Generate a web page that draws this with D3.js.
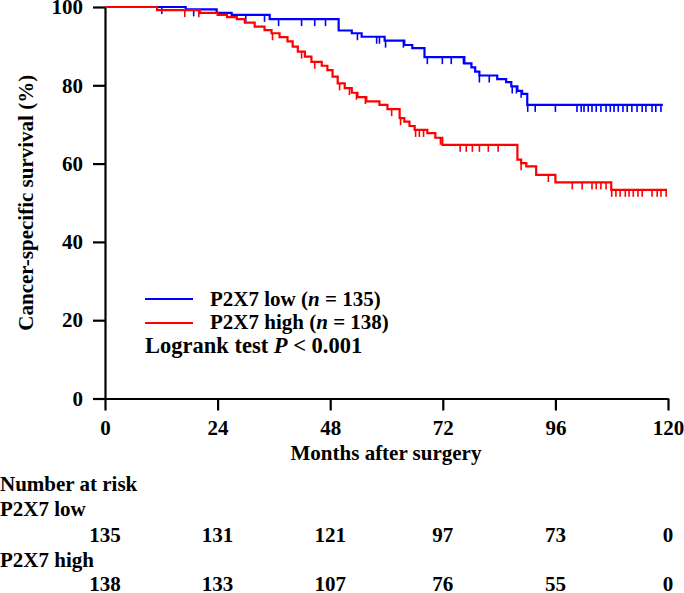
<!DOCTYPE html>
<html>
<head>
<meta charset="utf-8">
<script src="https://cdn.jsdelivr.net/npm/d3@7"></script>
<style>
  html, body { margin: 0; padding: 0; background: #fff; }
  svg text { font-family: "Liberation Serif", "Times New Roman", serif; font-weight: bold; fill: #000; }
</style>
</head>
<body>
<svg id="chart" width="684" height="593"></svg>
<script>
// ---- Data ----
const xTicks = [0, 24, 48, 72, 96, 120];
const yTicks = [0, 20, 40, 60, 80, 100];

// P2X7 low: step times (months) and survival (%)
const lowTimes = [0, 17.2, 23.8, 27.0, 35.1, 49.8, 52.6, 54.7, 59.6, 63.8, 65.5, 68.1, 76.6, 78.1, 78.9, 79.8, 83.6, 85.5, 86.6, 87.9, 88.9, 90.0, 118.9];
const lowSurv  = [100, 99.4, 98.5, 98.0, 96.9, 94.0, 93.3, 92.4, 91.4, 90.3, 89.5, 87.2, 85.6, 84.6, 83.5, 82.5, 81.6, 80.8, 79.7, 78.6, 77.8, 75.0, 75.0];
const lowCensor = [12.1, 18.9, 30.0, 34.0, 37.0, 41.9, 44.7, 47.0, 53.8, 57.9, 58.5, 59.8, 63.6, 68.7, 71.9, 73.8, 76.4, 79.8, 81.9, 86.8, 87.7, 88.7, 90.1, 91.7, 96.0, 100.6, 101.5, 102.1, 103.0, 103.8, 104.7, 105.7, 106.8, 107.7, 108.5, 109.4, 110.4, 111.3, 112.3, 113.4, 114.5, 115.3, 116.6, 117.4, 118.5];

// P2X7 high
const highTimes = [0, 11.1, 20.2, 24.0, 26.0, 28.1, 29.8, 31.9, 34.0, 35.5, 37.2, 38.9, 40.0, 41.1, 42.6, 44.0, 46.2, 47.4, 48.5, 49.6, 51.1, 52.6, 53.8, 55.7, 58.5, 60.2, 62.8, 63.8, 64.9, 66.0, 68.7, 70.4, 71.9, 87.9, 88.7, 89.8, 91.9, 96.0, 107.9, 119.8];
const highSurv  = [100, 99.2, 98.5, 98.0, 97.4, 96.9, 96.0, 95.0, 94.1, 93.3, 92.3, 91.2, 89.9, 88.6, 87.3, 86.0, 85.0, 83.9, 82.2, 80.5, 79.3, 78.1, 77.0, 75.9, 75.0, 73.9, 71.6, 70.7, 69.6, 68.6, 67.8, 66.6, 64.8, 61.0, 60.1, 59.3, 57.1, 55.2, 53.3, 53.3];
const highCensor = [17.0, 20.0, 35.7, 41.9, 44.7, 50.0, 52.1, 53.6, 55.5, 61.1, 63.0, 66.2, 67.0, 67.9, 71.5, 75.7, 77.0, 78.3, 79.8, 81.7, 83.8, 88.7, 94.5, 99.6, 101.7, 103.8, 104.7, 105.7, 106.8, 108.0, 108.9, 109.8, 110.9, 111.7, 112.6, 113.6, 114.5, 116.6, 117.7, 118.5, 119.6];

const riskTimes = [0, 24, 48, 72, 96, 120];
const lowRisk  = [135, 131, 121, 97, 73, 0];
const highRisk = [138, 133, 107, 76, 55, 0];

// ---- Layout ----
const svg = d3.select("#chart");
const mLeft = 105, mRight = 668, mTop = 7, mBottom = 398.5;
const x = d3.scaleLinear().domain([0, 120]).range([mLeft, mRight]);
const y = d3.scaleLinear().domain([0, 100]).range([mBottom, mTop]);
const FS = 21;

// axes
const yAxis = svg.append("g").attr("transform", `translate(${mLeft},0)`)
  .call(d3.axisLeft(y).tickValues(yTicks).tickSize(12).tickPadding(10).tickSizeOuter(0));
const xAxis = svg.append("g").attr("transform", `translate(0,${mBottom})`)
  .call(d3.axisBottom(x).tickValues(xTicks).tickSize(12).tickPadding(10).tickSizeOuter(0));
[xAxis, yAxis].forEach(g => {
  g.select(".domain").attr("stroke", "#000").attr("stroke-width", 2.2);
  g.selectAll(".tick line").attr("stroke", "#000").attr("stroke-width", 2.2);
  g.selectAll(".tick text").style("font-size", FS + "px").attr("font-family", null);
});
yAxis.selectAll(".tick text").attr("x", -22);
xAxis.selectAll(".tick text").attr("dy", null).attr("y", 36);

// axis titles
svg.append("text").attr("x", 386).attr("y", 460).attr("text-anchor", "middle")
  .style("font-size", FS + "px").text("Months after surgery");
svg.append("text").attr("transform", `translate(33,${(mTop + mBottom) / 2}) rotate(-90)`)
  .attr("text-anchor", "middle").style("font-size", FS + "px").text("Cancer-specific survival (%)");

// curves
function drawCurve(times, surv, censor, color) {
  const pts = times.map((t, i) => [t, surv[i]]);
  const line = d3.line().x(d => x(d[0])).y(d => y(d[1])).curve(d3.curveStepAfter);
  svg.append("path").datum(pts).attr("d", line).attr("fill", "none")
    .attr("stroke", color).attr("stroke-width", 2.2);
  const survAt = t => { let v = surv[0]; for (let i = 0; i < times.length; i++) if (times[i] <= t) v = surv[i]; return v; };
  svg.append("g").selectAll("line").data(censor).join("line")
    .attr("x1", d => x(d)).attr("x2", d => x(d))
    .attr("y1", d => y(survAt(d))).attr("y2", d => y(survAt(d)) + 7)
    .attr("stroke", color).attr("stroke-width", 1.6);
}
drawCurve(lowTimes, lowSurv, lowCensor, "#0000ff");
drawCurve(highTimes, highSurv, highCensor, "#ff0000");

// legend
const legend = [
  { color: "#0000ff", label: "P2X7 low (", n: "135", yLine: 299, yText: 306 },
  { color: "#ff0000", label: "P2X7 high (", n: "138", yLine: 323, yText: 329 }
];
legend.forEach(d => {
  svg.append("line").attr("x1", 145).attr("x2", 193).attr("y1", d.yLine).attr("y2", d.yLine)
    .attr("stroke", d.color).attr("stroke-width", 2.2);
  const t = svg.append("text").attr("x", 210).attr("y", d.yText).style("font-size", FS + "px");
  t.append("tspan").text(d.label);
  t.append("tspan").style("font-style", "italic").text("n");
  t.append("tspan").text(" = " + d.n + ")");
});
const lr = svg.append("text").attr("x", 145).attr("y", 353).style("font-size", "22.5px");
lr.append("tspan").text("Logrank test ");
lr.append("tspan").style("font-style", "italic").text("P");
lr.append("tspan").text(" < 0.001");

// number at risk table
svg.append("text").attr("x", 0).attr("y", 490.5).style("font-size", FS + "px").text("Number at risk");
svg.append("text").attr("x", 0).attr("y", 516).style("font-size", FS + "px").text("P2X7 low");
svg.append("text").attr("x", 0).attr("y", 566.5).style("font-size", FS + "px").text("P2X7 high");
svg.append("g").selectAll("text").data(riskTimes).join("text")
  .attr("x", (d) => x(d)).attr("y", 541.5).attr("text-anchor", "middle")
  .style("font-size", FS + "px").text((d, i) => lowRisk[i]);
svg.append("g").selectAll("text").data(riskTimes).join("text")
  .attr("x", (d) => x(d)).attr("y", 591).attr("text-anchor", "middle")
  .style("font-size", FS + "px").text((d, i) => highRisk[i]);
</script>
</body>
</html>
